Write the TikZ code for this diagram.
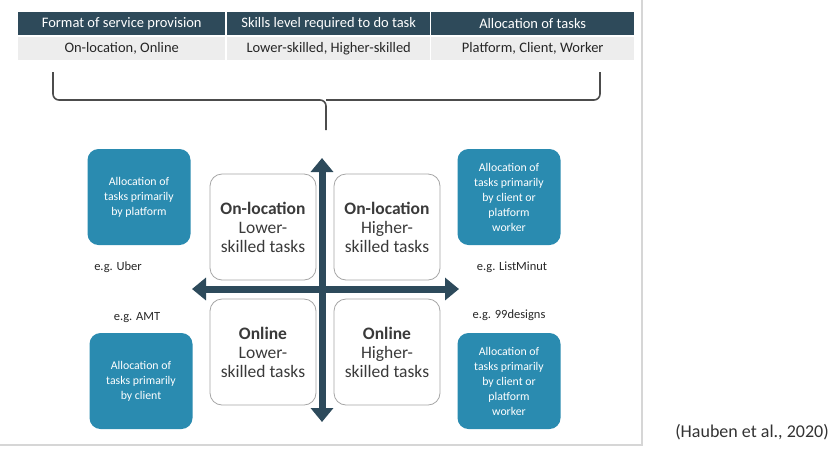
\documentclass[tikz,border=0pt]{standalone}
\usepackage{fontspec}
\setmainfont{Carlito}
\usetikzlibrary{arrows.meta}
\definecolor{hdark}{HTML}{2E4A5A}
\definecolor{hlight}{HTML}{EDEDED}
\definecolor{axis}{HTML}{2D4A5B}
\definecolor{bluebox}{HTML}{2A8BB0}
\definecolor{qtext}{HTML}{3A3A3A}
\definecolor{frame}{HTML}{D6D6D6}
\tikzset{
  hcell/.style={fill=hdark,text=white,minimum height=23pt,inner sep=0pt,anchor=north west,font=\fontsize{14.5}{16}\selectfont},
  lcell/.style={fill=hlight,text=black!85,minimum height=23pt,inner sep=0pt,anchor=north west,font=\fontsize{14.5}{16}\selectfont},
  quad/.style={draw=gray!70,line width=0.8pt,rounded corners=12pt,fill=white,minimum width=106pt,minimum height=106pt,align=center,text=qtext,font=\fontsize{17.5}{19}\selectfont,inner sep=0pt},
  bbox/.style={fill=bluebox,rounded corners=11pt,minimum width=103pt,minimum height=96pt,align=center,text=white,font=\fontsize{11.8}{15}\selectfont,inner sep=0pt},
  eg/.style={text=black!85,font=\fontsize{12.5}{14}\selectfont,inner sep=0pt},
  axisarrow/.style={draw=axis,line width=7pt,{Triangle[width=22pt,length=14pt]}-{Triangle[width=22pt,length=14pt]}},
  brace/.style={draw=black!70,line width=1.6pt,rounded corners=6pt}
}
\begin{document}
\begin{tikzpicture}[x=1pt,y=-1pt]
\useasboundingbox (0,0) rectangle (834,448);
\fill[white] (0,0) rectangle (834,448);
% slide frame
\draw[frame,line width=1.2pt] (642,0) -- (642,445) -- (0,445);
% header table
\node[hcell,minimum width=207pt] (h1) at (18,12) {Format of service provision};
\node[hcell,minimum width=203pt] (h2) at (227,12) {Skills level required to do task};
\node[hcell,minimum width=203pt] (h3) at (431,12) {Allocation of tasks};
\node[lcell,minimum width=207pt] (l1) at (18,37) {On-location, Online};
\node[lcell,minimum width=203pt] (l2) at (227,37) {Lower-skilled, Higher-skilled};
\node[lcell,minimum width=203pt] (l3) at (431,37) {Platform, Client, Worker};
% brace
\coordinate (bl) at (53,72);
\coordinate (br) at (600,72);
\coordinate (bm) at (326,100);
\coordinate (bt) at (326,130);
\draw[brace] (bl) |- (bm) -- (bt);
\draw[brace] (br) |- (bm);
% quadrants
\node[quad] (q1) at (263,227) {\textbf{On-location}\\Lower-\\skilled tasks};
\node[quad] (q2) at (387,227) {\textbf{On-location}\\Higher-\\skilled tasks};
\node[quad] (q3) at (263,352) {\textbf{Online}\\Lower-\\skilled tasks};
\node[quad] (q4) at (387,352) {\textbf{Online}\\Higher-\\skilled tasks};
% axes
\coordinate (vtop) at (322,158);
\coordinate (vbot) at (322,422);
\coordinate (hleft) at (192,289);
\coordinate (hright) at (459,289);
\draw[axisarrow] (vtop) -- (vbot);
\draw[axisarrow] (hleft) -- (hright);
% blue boxes
\node[bbox] (b1) at (139,197) {Allocation of\\tasks primarily\\by platform};
\node[bbox] (b2) at (509,197) {Allocation of\\tasks primarily\\by client or\\platform\\worker};
\node[bbox] (b3) at (141,381) {Allocation of\\tasks primarily\\by client};
\node[bbox] (b4) at (509,381) {Allocation of\\tasks primarily\\by client or\\platform\\worker};
% examples
\node[eg] (e1) at (118,267) {e.g. Uber};
\node[eg] (e2) at (512,267) {e.g. ListMinut};
\node[eg] (e3) at (137,318) {e.g. AMT};
\node[eg] (e4) at (509,315) {e.g. 99designs};
% citation
\node[text=black!80,font=\fontsize{18}{20}\selectfont,inner sep=0pt] (cite) at (752,432) {(Hauben et al., 2020)};
\end{tikzpicture}
\end{document}
